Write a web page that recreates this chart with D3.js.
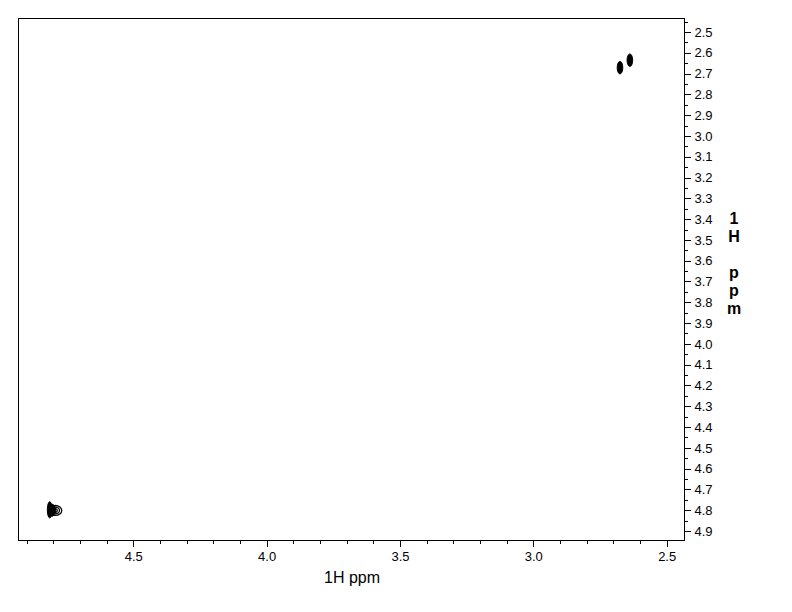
<!DOCTYPE html>
<html>
<head>
<meta charset="utf-8">
<script src="https://cdn.jsdelivr.net/npm/d3@7"></script>
<style>
  html, body { margin: 0; padding: 0; background: #fff; }
  svg { display: block; }
  text { font-family: "Liberation Sans", Arial, sans-serif; }
</style>
</head>
<body>
<script>
// ---- data (ppm) ----
const xDomain = [4.932, 2.435];
const yDomain = [2.433, 4.943];
const xMajorTicks = [4.5, 4.0, 3.5, 3.0, 2.5];
const xMinorTicks = [4.9, 4.8, 4.7, 4.6, 4.4, 4.3, 4.2, 4.1, 3.9, 3.8, 3.7, 3.6, 3.4, 3.3, 3.2, 3.1, 2.9, 2.8, 2.7, 2.6];
const yMajorTicks = [2.5, 2.6, 2.7, 2.8, 2.9, 3.0, 3.1, 3.2, 3.3, 3.4, 3.5, 3.6, 3.7, 3.8, 3.9, 4.0, 4.1, 4.2, 4.3, 4.4, 4.5, 4.6, 4.7, 4.8, 4.9];
const yMinorTicks = [2.45, 2.55, 2.65, 2.75, 2.85, 2.95, 3.05, 3.15, 3.25, 3.35, 3.45, 3.55, 3.65, 3.75, 3.85, 3.95, 4.05, 4.15, 4.25, 4.35, 4.45, 4.55, 4.65, 4.75, 4.85, 4.95];
const xTitle = "1H ppm";
const yTitleLines = ["1", "H", "", "p", "p", "m"];

// contour levels: centre (x,y) in ppm, radii in ppm, filled or outline
const contourX    = [2.638, 2.675, 4.813, 4.804, 4.792, 4.793, 4.794];
const contourY    = [2.636, 2.672, 4.798, 4.800, 4.801, 4.801, 4.801];
const contourRx   = [0.0105, 0.0105, 0.0090, 0.0130, 0.0240, 0.0165, 0.0090];
const contourRy   = [0.0300, 0.0300, 0.0390, 0.0290, 0.0240, 0.0165, 0.0090];
const contourFill = [true, true, true, true, false, false, false];

// ---- layout ----
const W = 792, H = 612;
const L = 18, R = 684, T = 18, B = 540;

const svg = d3.select("body").append("svg").attr("width", W).attr("height", H);
svg.append("rect").attr("width", W).attr("height", H).attr("fill", "#fff");

const x = d3.scaleLinear().domain(xDomain).range([L, R]);
const y = d3.scaleLinear().domain(yDomain).range([T, B]);

// frame (top + left)
svg.append("path")
  .attr("d", `M${L + 0.5},${B}V${T + 0.5}H${R}`)
  .attr("fill", "none").attr("stroke", "#000").attr("stroke-width", 1)
  .attr("shape-rendering", "crispEdges");

// contours
const cg = svg.append("g");
contourX.forEach((cx, i) => {
  const px = x(cx), py = y(contourY[i]);
  const rx = Math.abs(x(cx + contourRx[i]) - px);
  const ry = Math.abs(y(contourY[i] + contourRy[i]) - py);
  cg.append("ellipse")
    .attr("cx", px).attr("cy", py).attr("rx", rx).attr("ry", ry)
    .attr("fill", contourFill[i] ? "#000" : "none")
    .attr("stroke", "#000").attr("stroke-width", contourFill[i] ? 1 : 1.3);
});

// x axis
const xAxisMajor = d3.axisBottom(x).tickValues(xMajorTicks).tickFormat(d3.format(".1f"))
  .tickSizeInner(6).tickSizeOuter(0).tickPadding(5);
const gx = svg.append("g").attr("transform", `translate(0,${B + 0.5})`).call(xAxisMajor);
gx.select(".domain").attr("d", `M${L},0H${R + 1}`);
const xAxisMinor = d3.axisBottom(x).tickValues(xMinorTicks).tickFormat("").tickSizeInner(3).tickSizeOuter(0);
const gxm = svg.append("g").attr("transform", `translate(0,${B + 0.5})`).call(xAxisMinor);
gxm.select(".domain").remove();

// y axis (right)
const yAxisMajor = d3.axisRight(y).tickValues(yMajorTicks).tickFormat(d3.format(".1f"))
  .tickSizeInner(6).tickSizeOuter(0).tickPadding(4);
const gy = svg.append("g").attr("transform", `translate(${R + 0.5},0)`).call(yAxisMajor);
gy.select(".domain").attr("d", `M0,${T}V${B + 1}`);
const yAxisMinor = d3.axisRight(y).tickValues(yMinorTicks.filter(v => y(v) >= T && y(v) <= B))
  .tickFormat("").tickSizeInner(3).tickSizeOuter(0);
const gym = svg.append("g").attr("transform", `translate(${R + 0.5},0)`).call(yAxisMinor);
gym.select(".domain").remove();

svg.selectAll(".tick text").attr("font-size", 13).attr("fill", "#000")
  .attr("font-family", "'Liberation Sans', Arial, sans-serif");
svg.selectAll(".tick line, .domain").attr("stroke", "#000").attr("shape-rendering", "crispEdges");

// titles
svg.append("text").attr("x", 352).attr("y", 583).attr("text-anchor", "middle")
  .attr("font-size", 16).text(xTitle);

const yt = svg.append("text").attr("x", 734).attr("text-anchor", "middle")
  .attr("font-size", 16).attr("font-weight", "bold");
yTitleLines.forEach((s, i) => {
  yt.append("tspan").attr("x", 734).attr("y", 224 + i * 18).text(s === "" ? "\u00a0" : s);
});
</script>
</body>
</html>
